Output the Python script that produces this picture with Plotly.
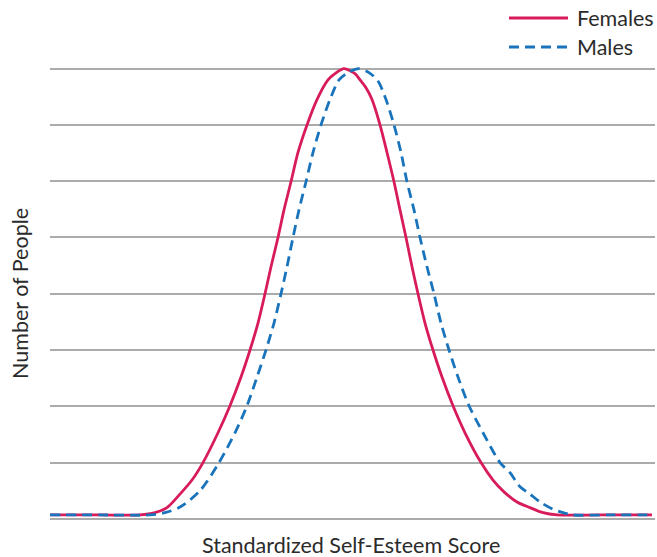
import plotly.graph_objects as go

# Values (x: score units, y: number of people, in gridline units)
female_x = [50, 100, 140, 155, 167, 180, 192, 203, 218, 230, 241, 250, 258, 265, 271, 278,
            284, 291, 298, 307, 317, 328, 335, 344, 355, 360, 366, 372, 380, 387, 394, 400,
            406, 412, 418, 425, 433, 442, 453, 465, 481, 493, 504, 517, 530, 543, 557, 600, 652]
female_y = [0.07, 0.07, 0.07, 0.11, 0.20, 0.44, 0.69, 1.00, 1.53, 2.01, 2.52, 3.00, 3.48, 4.00, 4.48, 5.00,
            5.49, 5.99, 6.51, 7.00, 7.45, 7.80, 7.91, 8.00, 7.91, 7.80, 7.66, 7.45, 7.00, 6.51, 5.99, 5.49,
            5.00, 4.48, 4.00, 3.48, 3.00, 2.52, 2.01, 1.53, 1.00, 0.69, 0.48, 0.30, 0.20, 0.11, 0.07, 0.07, 0.07]

male_x = [50, 100, 150, 165, 180, 200, 219, 235, 247, 257, 266, 274, 281, 287, 293,
          299, 306, 313, 321, 330, 339, 348, 359, 369, 378, 386, 394, 401, 407, 414,
          420, 427, 434, 441, 449, 458, 469, 483, 500, 510, 520, 530, 540, 552, 563, 573, 610, 652]
male_y = [0.07, 0.07, 0.07, 0.11, 0.21, 0.50, 1.00, 1.53, 2.01, 2.52, 3.00, 3.48, 4.00, 4.48, 5.00,
          5.49, 5.99, 6.51, 7.00, 7.45, 7.80, 7.93, 8.00, 7.93, 7.78, 7.45, 7.00, 6.51, 5.99, 5.49,
          5.00, 4.48, 4.00, 3.48, 3.00, 2.52, 2.01, 1.53, 1.00, 0.82, 0.57, 0.44, 0.30, 0.18, 0.11, 0.07, 0.07, 0.07]

grid_vals = [0, 1, 2, 3, 4, 5, 6, 7, 8]
series_names = ["Females", "Males"]
x_title = "Standardized Self-Esteem Score"
y_title = "Number of People"

FEM = "#d81b5a"
MAL = "#1a74bb"
TXT = "#2b2b2b"
FONT = "Lato, 'Open Sans', Arial, sans-serif"
FS = 21.5

fig = go.Figure()
fig.add_trace(go.Scatter(x=female_x, y=female_y, mode="lines", name=series_names[0],
                         line=dict(color=FEM, width=2.8, shape="spline", smoothing=0.8),
                         showlegend=False, hoverinfo="skip"))
fig.add_trace(go.Scatter(x=male_x, y=male_y, mode="lines", name=series_names[1],
                         line=dict(color=MAL, width=2.8, dash="10px,6px", shape="spline", smoothing=0.8),
                         showlegend=False, hoverinfo="skip"))

W, H = 657, 557
ml, mr, mt, mb = 50, 2, 63, 37
pw, ph = W - ml - mr, H - mt - mb

def px(xp):
    return (xp - ml) / pw

def py(yp):
    return (H - mb - yp) / ph

shapes = [
    dict(type="line", xref="paper", yref="paper", x0=px(509), x1=px(568), y0=py(18), y1=py(18),
         line=dict(color=FEM, width=2.8)),
    dict(type="line", xref="paper", yref="paper", x0=px(509), x1=px(568), y0=py(47), y1=py(47),
         line=dict(color=MAL, width=2.8, dash="10px,6px")),
]
annotations = [
    dict(text=series_names[0], xref="paper", yref="paper", x=px(575), y=py(18),
         xanchor="left", yanchor="middle", showarrow=False, font=dict(size=FS, color=TXT)),
    dict(text=series_names[1], xref="paper", yref="paper", x=px(575), y=py(47),
         xanchor="left", yanchor="middle", showarrow=False, font=dict(size=FS, color=TXT)),
    dict(text=x_title, xref="paper", yref="paper", x=px(351), y=py(545),
         xanchor="center", yanchor="middle", showarrow=False, font=dict(size=FS, color=TXT)),
    dict(text=y_title, xref="paper", yref="paper", x=px(20), y=py(294), textangle=-90,
         xanchor="center", yanchor="middle", showarrow=False, font=dict(size=FS, color=TXT)),
]

fig.update_layout(
    width=W, height=H,
    margin=dict(l=ml, r=mr, t=mt, b=mb),
    paper_bgcolor="white", plot_bgcolor="white",
    font=dict(family=FONT, color=TXT),
    shapes=shapes, annotations=annotations,
    xaxis=dict(range=[50, 655], showgrid=False, zeroline=False, showticklabels=False,
               showline=False, ticks=""),
    yaxis=dict(range=[-0.02, 8.1], tickvals=grid_vals, showticklabels=False, ticks="",
               showgrid=True, gridcolor="#ababab", gridwidth=1.5, zeroline=False, showline=False),
)

fig.write_html("out.html", config={"displayModeBar": False},
               post_script="document.body.style.margin='0';document.body.style.overflow='hidden';")
